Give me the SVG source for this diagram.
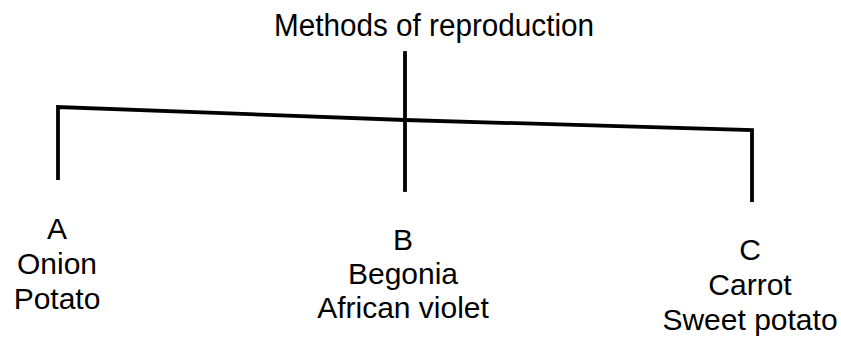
<svg xmlns="http://www.w3.org/2000/svg" width="841" height="345" viewBox="0 0 841 345">
<style>
.lbl{font-family:"Liberation Sans",Arial,sans-serif;font-size:30px;fill:#000;text-anchor:middle}
.ln{fill:none;stroke:#000;stroke-width:3.8;stroke-linecap:square;stroke-linejoin:miter}
</style>
<rect width="841" height="345" fill="#fff"/>
<g id="connectors">
<path class="ln" d="M405,53 L405,190"/>
<path class="ln" d="M58,178 L58,107 L405,120 L752,130 L752,200"/>
</g>
<g id="root">
<text class="lbl" x="434" y="36" textLength="320" lengthAdjust="spacingAndGlyphs" style="font-size:31px">Methods of reproduction</text>
</g>
<g id="nodeA">
<text class="lbl" x="57" y="239">A</text>
<text class="lbl" x="57" y="274">Onion</text>
<text class="lbl" x="57" y="309">Potato</text>
</g>
<g id="nodeB">
<text class="lbl" x="403" y="250">B</text>
<text class="lbl" x="403" y="284">Begonia</text>
<text class="lbl" x="403" y="318">African violet</text>
</g>
<g id="nodeC">
<text class="lbl" x="750" y="260">C</text>
<text class="lbl" x="750" y="295">Carrot</text>
<text class="lbl" x="750" y="330">Sweet potato</text>
</g>
</svg>
